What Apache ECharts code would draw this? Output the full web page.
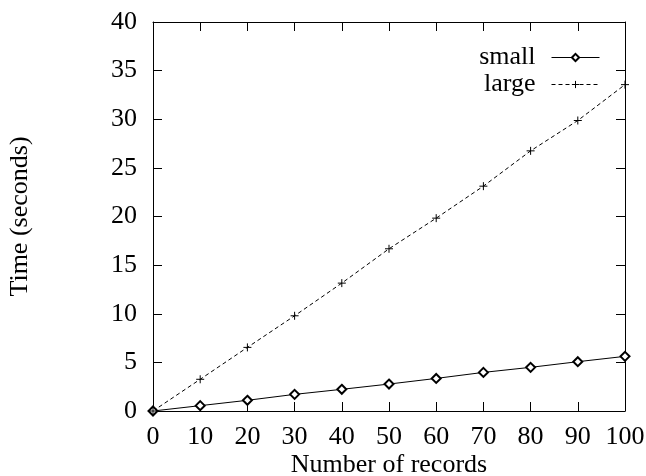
<!DOCTYPE html>
<html>
<head>
<meta charset="utf-8">
<script src="https://cdn.jsdelivr.net/npm/echarts@6/dist/echarts.min.js"></script>
<style>html,body{margin:0;padding:0;background:#fff;}#c{width:646px;height:476px;}</style>
</head>
<body>
<div id="c"></div>
<script>
var records = [0, 10, 20, 30, 40, 50, 60, 70, 80, 90, 100];
var smallTimes = [0, 0.55, 1.1, 1.71, 2.23, 2.77, 3.35, 3.97, 4.49, 5.07, 5.62];
var largeTimes = [0, 3.26, 6.54, 9.79, 13.15, 16.68, 19.83, 23.12, 26.75, 29.87, 33.56];
var seriesNames = ['small', 'large'];
var xTitle = 'Number of records';
var yTitle = 'Time (seconds)';

var FONT = 'Liberation Serif';
var FS = 26;
function pairs(xs, ys) { return xs.map(function (x, i) { return [x, ys[i]]; }); }
var plusPath = 'path://M5,0L5,10M0,5L10,5';

var chart = echarts.init(document.getElementById('c'), null, {renderer: 'canvas'});
var axisCommon = {
  axisLine: {show: true, onZero: false, lineStyle: {color: '#000', width: 1}},
  axisTick: {show: true, inside: true, length: 9, lineStyle: {color: '#000', width: 1}},
  splitLine: {show: false}
};
chart.setOption({
  animation: false,
  backgroundColor: '#fff',
  textStyle: {fontFamily: FONT},
  grid: {left: 153, right: 21, top: 22, bottom: 65, containLabel: false, outerBoundsMode: 'none'},
  legend: {
    orient: 'vertical',
    right: 46,
    top: 44,
    align: 'right',
    padding: 0,
    itemWidth: 48,
    itemHeight: 9,
    itemGap: 0,
    lineStyle: {width: 1},
    itemStyle: {borderWidth: 1},
    textStyle: {fontFamily: FONT, fontSize: FS, color: '#000', padding: [0, 11, 0, 0], lineHeight: 27},
    data: seriesNames
  },
  xAxis: [
    Object.assign({
      type: 'value', min: 0, max: 100, interval: 10, position: 'bottom',
      name: xTitle, nameLocation: 'middle', nameGap: 41, nameMoveOverlap: false,
      nameTextStyle: {fontFamily: FONT, fontSize: FS, color: '#000'},
      axisLabel: {fontFamily: FONT, fontSize: FS, color: '#000', margin: 13}
    }, axisCommon),
    Object.assign({
      type: 'value', min: 0, max: 100, interval: 10, position: 'top',
      axisLabel: {show: false}
    }, axisCommon)
  ],
  yAxis: [
    Object.assign({
      type: 'value', min: 0, max: 40, interval: 5, position: 'left',
      name: yTitle, nameLocation: 'middle', nameGap: 120, nameMoveOverlap: false,
      nameTextStyle: {fontFamily: FONT, fontSize: FS, color: '#000'},
      axisLabel: {fontFamily: FONT, fontSize: FS, color: '#000', margin: 16}
    }, axisCommon),
    Object.assign({
      type: 'value', min: 0, max: 40, interval: 5, position: 'right',
      axisLabel: {show: false}
    }, axisCommon)
  ],
  series: [
    {
      name: seriesNames[0], type: 'line', xAxisIndex: 0, yAxisIndex: 0,
      data: pairs(records, smallTimes),
      symbol: 'emptyDiamond', symbolSize: 9, showAllSymbol: true,
      lineStyle: {color: '#000', width: 1, type: 'solid'},
      itemStyle: {color: '#000', borderColor: '#000', borderWidth: 1}
    },
    {
      name: seriesNames[1], type: 'line', xAxisIndex: 0, yAxisIndex: 0,
      data: pairs(records, largeTimes),
      symbol: plusPath, symbolSize: 8, showAllSymbol: true,
      lineStyle: {color: '#000', width: 1, type: [4, 3]},
      itemStyle: {color: 'none', borderColor: '#000', borderWidth: 1}
    }
  ]
});
</script>
</body>
</html>
